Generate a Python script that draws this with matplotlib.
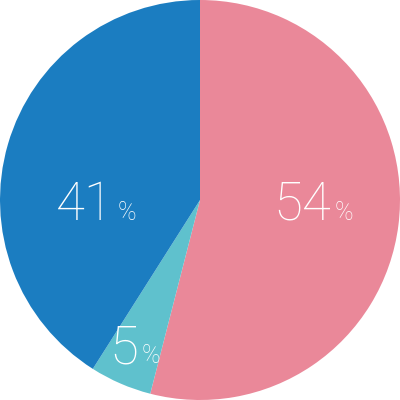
import matplotlib
matplotlib.use("Agg")
import matplotlib.pyplot as plt

# 数据
labels = ["54", "5", "41"]
values = [54, 5, 41]
colors = ["#EA8899", "#5FC1CD", "#1B7DC1"]

# 标签位置 (数字右边缘, 基线)
label_pos = [(0.655, -0.10), (-0.31, -0.815), (-0.43, -0.10)]

plt.rcParams["font.family"] = ["Roboto", "DejaVu Sans"]

fig = plt.figure(figsize=(4, 4), dpi=100)
ax = fig.add_axes([0, 0, 1, 1])
ax.pie(values, colors=colors, startangle=90, counterclock=False,
       radius=1.0, wedgeprops=dict(linewidth=0))

for lab, (x, y) in zip(labels, label_pos):
    ax.text(x, y, lab, color="white", fontsize=38, fontweight="light",
            ha="right", va="baseline")
    ax.text(x + 0.018, y, "%", color="white", fontsize=18, fontweight="light",
            ha="left", va="baseline")

ax.set_xlim(-1, 1)
ax.set_ylim(-1, 1)
ax.set_aspect("equal")
ax.axis("off")

plt.savefig("out.png", dpi=100, facecolor="white")
